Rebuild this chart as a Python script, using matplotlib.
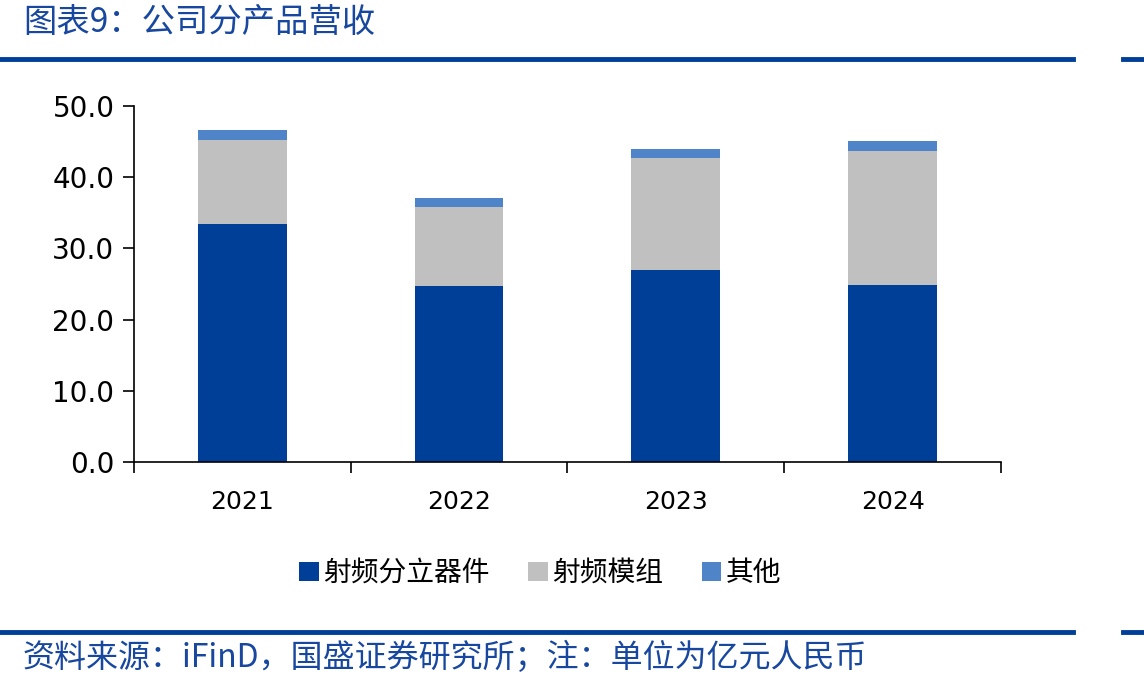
import numpy as np
import matplotlib.pyplot as plt
from matplotlib.lines import Line2D

plt.rcParams['font.family'] = ['DejaVu Sans', 'Noto Sans CJK SC']

# data (亿元)
years = ['2021', '2022', '2023', '2024']
discrete = [33.4, 24.7, 27.0, 24.9]   # 射频分立器件
module = [11.8, 11.1, 15.7, 18.8]     # 射频模组
other = [1.4, 1.3, 1.3, 1.4]          # 其他
series_names = ['射频分立器件', '射频模组', '其他']
colors = ['#003F98', '#C0C0C0', '#4F84C8']

fig = plt.figure(figsize=(11.44, 6.88), dpi=100)
ax = fig.add_axes([0.117, 0.3285, 0.758, 0.5175])

x = np.arange(len(years))
w = 0.41
b1 = ax.bar(x, discrete, w, color=colors[0], label=series_names[0])
b2 = ax.bar(x, module, w, bottom=discrete, color=colors[1], label=series_names[1])
bottom2 = np.array(discrete) + np.array(module)
b3 = ax.bar(x, other, w, bottom=bottom2, color=colors[2], label=series_names[2])

ax.set_xlim(-0.5, 3.5)
ax.set_ylim(0, 50)
ax.set_yticks(np.arange(0, 51, 10))
ax.set_yticklabels([f'{v:.1f}' for v in np.arange(0, 51, 10)], fontsize=20)
ax.set_xticks(x)
ax.set_xticklabels(years, fontsize=18)
ax.tick_params(axis='x', length=0, pad=20)
ax.set_xticks(np.arange(-0.5, 4, 1), minor=True)
ax.tick_params(axis='x', which='minor', length=8, width=1.2, direction='out')
ax.tick_params(axis='y', length=8, width=1.2, direction='out', pad=6)
for s in ['top', 'right']:
    ax.spines[s].set_visible(False)
ax.spines['left'].set_linewidth(1.2)
ax.spines['bottom'].set_linewidth(1.2)

leg = fig.legend(handles=[b1, b2, b3], loc='center', bbox_to_anchor=(0.472, 0.167),
                 ncol=3, frameon=False, handlelength=0.7, handleheight=0.7,
                 handletextpad=0.15, columnspacing=1.4,
                 prop={'family': ['Noto Sans CJK SC'], 'size': 20})

# header / footer decoration
blue = '#003F98'
fig.text(0.020, 0.968, '图表9：公司分产品营收', fontsize=24, color='#17479E',
         va='center', ha='left', family=['Noto Sans CJK SC'], style='italic')
fig.add_artist(Line2D([0, 0.938], [0.914, 0.914], color=blue, lw=3.5, transform=fig.transFigure))
fig.add_artist(Line2D([0.982, 1.0], [0.914, 0.914], color=blue, lw=3.5, transform=fig.transFigure))
fig.add_artist(Line2D([0, 0.938], [0.081, 0.081], color=blue, lw=3.5, transform=fig.transFigure))
fig.add_artist(Line2D([0.982, 1.0], [0.081, 0.081], color=blue, lw=3.5, transform=fig.transFigure))
fig.text(0.020, 0.044, '资料来源：iFinD，国盛证券研究所；注：单位为亿元人民币', fontsize=23,
         color='#17479E', va='center', ha='left', family=['Noto Sans CJK SC'], style='italic')

fig.savefig('out.png', dpi=100)
